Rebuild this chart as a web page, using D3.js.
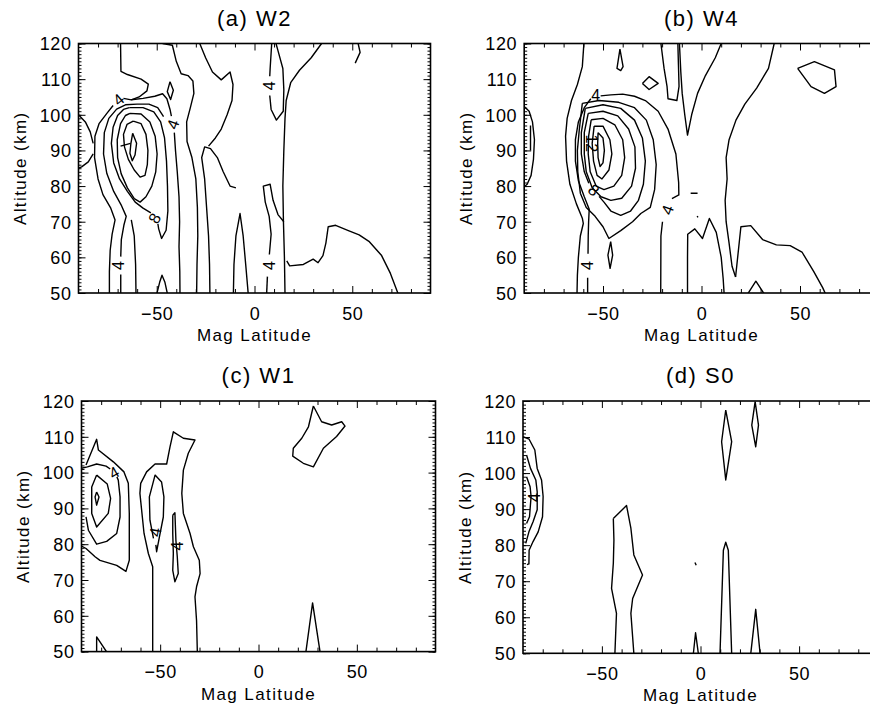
<!DOCTYPE html>
<html>
<head>
<meta charset="utf-8">
<script src="https://cdn.jsdelivr.net/npm/d3@7"></script>
<style>
  body { margin: 0; background: #fff; }
  text { font-family: "Liberation Sans", Arial, sans-serif; fill: #000; }
  .axis text { font-size: 18px; letter-spacing: 0.6px; }
  .axis path { display: none; }
  .axis line { stroke: #000; stroke-width: 1; }
  .contour { fill: none; stroke: #000; stroke-width: 1.4; stroke-linejoin: round; }
</style>
</head>
<body>
<svg id="chart" width="870" height="708"></svg>
<script>
// tick values
var latTicks = [-50, 0, 50];
var latMinor = [-80, -70, -60, -40, -30, -20, -10, 10, 20, 30, 40, 60, 70, 80];
var altTicks = [50, 60, 70, 80, 90, 100, 110, 120];

var titles = ["(a) W2", "(b) W4", "(c) W1", "(d) S0"];

// contour lines, [mag latitude, altitude km]
var w2Lines = [
  [[-90,100],[-86.5,98],[-84,95.2],[-82.5,92]],
  [[-82.5,89],[-85,86.8],[-88.4,85.4],[-90,85]],
  [[-74.2,49.7],[-74.2,56],[-73.8,62],[-72.8,66.5],[-71.3,70.5],[-73.5,73.8],[-77.5,77.6],[-80,82],[-81.8,88],[-81.6,94],[-79.5,97.5],[-75.5,100.4],[-72.3,102.6]],
  [[-67,104.6],[-63,104.2],[-57,104.6],[-51,105.2],[-47,105.9],[-44.8,104.5],[-43.2,101.5],[-42.5,99.6]],
  [[-41,95],[-40.4,90],[-39.5,84],[-38.6,77],[-38.3,70],[-38.6,63],[-38.2,56],[-38.1,49.7]],
  [[-68.5,120],[-68.3,112.2],[-65,111.3],[-58,110],[-54.3,108.6],[-55,106.7],[-59,105],[-63,104.2]],
  [[-43.2,109.3],[-41.5,106.9],[-42.9,104.3],[-44.6,106.5],[-43.2,109.3]],
  [[-68.4,49.7],[-68.4,55.2]],
  [[-68.4,60.2],[-68.1,65],[-66.8,69],[-65.6,71.5],[-68,74.5],[-72,78.5],[-75.5,83.5],[-77.2,89],[-76.8,95],[-74.5,99],[-70.5,101.6],[-66,102.8],[-60,103],[-54,103],[-49.5,102],[-46.5,99.5]],
  [[-62.3,94.8],[-60.3,92],[-61.1,88.7],[-62.5,87.1],[-63.7,89.2],[-63.2,92],[-62.3,94.8]],
  [[-68.5,91.2],[-63.4,92]],
  [[-62,98.2],[-58,97.5],[-55.5,94.5],[-54.5,90],[-54.8,86],[-56,83],[-58.5,82.5],[-61.5,84.5],[-64.5,87.5],[-66.5,91],[-67,94.5],[-65.2,97.3],[-62,98.2]],
  [[-63.7,100.4],[-58,100.2],[-53.5,98],[-50.8,94],[-49.8,89],[-50.5,84],[-52.5,80],[-55.5,77],[-58.5,75.5],[-61.5,76.5],[-65,79.5],[-68.2,83.5],[-70,88],[-70.2,93],[-68.5,97.5],[-66,99.8],[-63.7,100.4]],
  [[-64,102],[-57,102],[-51.5,100.8],[-48,98],[-46,93.5],[-45,87],[-44.5,80],[-44.3,73],[-45.2,67.6],[-47.5,65.3],[-49,68],[-49.4,69.4]],
  [[-53,72.5],[-57,73.8],[-61,75.5],[-65,78.5],[-69,82],[-72,86.5],[-73.2,92],[-72.3,96.5],[-70,99.8],[-67,101.5],[-64,102]],
  [[-60.6,49.7],[-60.8,58],[-61.5,66],[-63,70.5]],
  [[-50,49.7],[-48.5,53],[-47.3,55],[-45.8,53],[-44.5,49.7]],
  [[-29.6,49.7],[-29.4,58],[-29,66],[-29.2,74],[-30,82],[-32,88],[-34.5,92.5],[-34.7,98],[-32.8,102],[-31,106],[-31.5,109.5],[-34,111],[-37.5,111.5],[-40,115],[-42,119.5],[-47,120]],
  [[-22.8,49.7],[-23,58],[-23.5,66],[-24.5,74],[-25.5,82],[-27,88],[-25.5,91],[-22.5,90.5],[-19,88],[-16,84],[-12.5,80],[-9.5,79.5]],
  [[-28,120],[-25,116],[-21.5,112],[-17,109.8],[-12.5,112],[-11,108.5],[-11.5,104],[-14,100],[-17,96],[-20,93.5],[-23.5,91.2]],
  [[-10.8,49.7],[-10.5,58],[-9.5,66],[-7.4,72.3],[-5.8,66],[-4.5,58],[-3.2,49.7]],
  [[8.8,120],[8,113],[7.8,110.8]],
  [[7.8,105.4],[8.5,101.5],[11.2,98.5],[14.7,101],[15,107],[14.5,113],[12,118],[11,120]],
  [[6.2,49.7],[6.6,54.6]],
  [[7.6,60.8],[8.5,66.5],[7.5,71.5],[5.5,75.5],[4.5,80],[8,80.5],[9.5,76],[12,72],[15,70]],
  [[15.6,49.7],[15.3,60],[14.8,70],[14.5,80],[15,90],[15.6,99],[16.2,104],[18.5,109],[23,112.5],[29,116],[34.3,120]],
  [[53,120],[54,117.5],[51.5,114.5]],
  [[73.5,49.7],[69.5,55.5],[65,60.5],[58.5,64.5],[53.5,66.3],[48,67.5],[41.5,69],[37.7,68.6],[36.5,64],[35,60.5],[32.5,58.5],[30,59.5],[25,58],[18,57.6],[16.5,59]]
];
var w2Labels = [
  [-69.6, 104.3, "4", -40], [-41.7, 97.3, "4", -70], [-69.6, 57.7, "4", -90],
  [-51.2, 71, "8", -60], [7.6, 108.1, "4", -90], [7.3, 57.7, "4", -90]
];

var w4Lines = [
  [[-90,102.3],[-87.5,101],[-85.8,98],[-84.8,93],[-85.3,87.5],[-86.5,83],[-88.5,80.5],[-90,79.8]],
  [[-86.8,97],[-86.8,90]],
  [[-59.7,120],[-60.5,113.5],[-63,108.5],[-66,104],[-68.2,99],[-69,94],[-68.5,87],[-66.8,80.5],[-63.5,75],[-60.5,71],[-60,69.5],[-61.5,66],[-62.5,60],[-63,55],[-63.2,49.7]],
  [[-56.2,104.5],[-59.5,102],[-62.5,98],[-64,93],[-64,87],[-62.5,81.5],[-59.5,77],[-57,73.5],[-57.3,70],[-57.5,66],[-57.6,61]],
  [[-57.8,54.3],[-57.8,49.7]],
  [[-51.2,105.3],[-46,105.6],[-40,105.8],[-34,105.2],[-28.5,104],[-22,101],[-17,96],[-13,89],[-11.6,81],[-11.5,77.5],[-15,76.5]],
  [[-19.8,70],[-20.6,66],[-20.7,49.7]],
  [[-52.5,95],[-50,93.5],[-49.3,90],[-50,86.5],[-51.5,85.5],[-52.5,88],[-52.7,92],[-52.5,95]],
  [[-54.5,96.8],[-50,96.8],[-46.5,93],[-45.5,89],[-47,84.5],[-50.5,82],[-53,83],[-54.8,87],[-55.5,92],[-54.5,96.8]],
  [[-56,98.6],[-50,99],[-44,97.2],[-40,93],[-39,88],[-40.5,83],[-44.5,80],[-49.5,79],[-53.5,80],[-56.5,84],[-57.5,89],[-57.3,94],[-56,98.6]],
  [[-57.5,100.4],[-50,101],[-42.5,99.7],[-37,96],[-33.8,91],[-33.5,85],[-35.5,80],[-40.5,76.6],[-46,76],[-51,77],[-55.5,79.5],[-58.5,84],[-59.5,89],[-59.5,95],[-57.5,100.4]],
  [[-59,101.8],[-50,102.8],[-41,101.8],[-34,98.5],[-30,93.5],[-28.5,87],[-29.5,80.5],[-32,76],[-36,73],[-41,71.8],[-46,73],[-49.5,75.5],[-52,77.1]],
  [[-57.2,80.8],[-59.5,84],[-61,89],[-61,95],[-59,101.8]],
  [[-60.5,103.2],[-52,104],[-42,103.5],[-34,102],[-28,98.5],[-24.5,93],[-23,86],[-23.8,79],[-26,74],[-30.8,72.3],[-35,70],[-41,67.5],[-47,65.3],[-50,68.6],[-54,71.5],[-58.5,74],[-61.5,78],[-62.8,84],[-63,90],[-62,96],[-60.5,103.2]],
  [[-46.1,64.4],[-45.1,60.6],[-46.4,56.9],[-47.5,60.6],[-46.1,64.4]],
  [[-41.4,118.4],[-39.8,113.5],[-41,112.4],[-42.9,113],[-41.4,118.4]],
  [[-30,108.8],[-26.6,110.7],[-22,108.8],[-26.6,107.1],[-30,108.8]],
  [[-20.6,120],[-19,113],[-17.5,108],[-17,104.5],[-12.5,104],[-11.4,108],[-11.7,114],[-12,120]],
  [[-11.2,120],[-10.5,112],[-9.8,106],[-8.5,100],[-7.1,94.3],[-5,100],[-2,106],[2,111],[7,116],[10,120]],
  [[36.9,120],[34,113],[28,107.5],[22,103],[17.5,98.5],[14,93],[12.5,88],[13,82],[12,76],[12.5,70],[14,64],[15.5,57.5],[17.3,54.5]],
  [[-7.1,49.7],[-7.1,60],[-7,66.5],[-3.4,68],[0.5,65.3],[4,70.9],[7.5,67],[10,60],[11,54],[11.5,49.7]],
  [[17.3,54.5],[20,68.6],[25,68.9],[31,65],[38,63.5],[45,63.3],[51,61.5],[57,56],[61.5,51.5],[63,49.7]],
  [[48.8,113],[57.3,114.9],[67.5,112.6],[68.3,107.9],[62.4,106],[55.6,107.9],[48.8,113]],
  [[23.4,49.7],[27.6,53.3],[31.9,49.7]],
  [[-5.5,78],[-2,78]],
  [[-2.2,71.6],[-1.8,71.2]]
];
var w4Labels = [
  [-53.7, 105.6, "4", 0], [-58, 57.7, "4", -90], [-17.3, 73.3, "4", -70],
  [-54.6, 78.9, "8", 40], [-55.5, 92, "12", 90]
];

var w1Lines = [
  [[-87.7,102.1],[-82.3,109.3],[-81.4,106.3],[-73.8,103],[-68.4,100.2],[-66.2,97],[-65.7,88.6],[-65.7,75.5],[-67.4,72.4],[-72.1,74.1],[-80.6,75.5],[-83.1,76.5],[-87.7,78.8],[-90,79.5]],
  [[-90,101.2],[-87,101.6],[-82.3,102.4],[-77.5,101.8],[-75.4,101]],
  [[-72,98.8],[-71.3,97.9],[-70.4,93.2],[-70.4,87.6],[-72.1,83],[-77.2,80.8],[-82.3,80],[-86.5,83.9],[-87.7,87.6]],
  [[-82.3,99.3],[-76.9,96.8],[-75.2,92.8],[-76.4,88.6],[-82.3,84.8],[-84.8,88.6],[-84.8,96],[-82.3,99.3]],
  [[-82.3,94.6],[-81.1,93.2],[-82.3,90.9],[-83.1,93.2],[-82.3,94.6]],
  [[-53.8,49.9],[-53.8,73.7],[-56,77.4],[-58.2,83],[-60.3,94.2],[-59.9,97],[-56.9,100.2],[-52.6,102.4],[-46.7,102.4],[-45,107.2],[-43.3,111.4],[-38.2,109.6],[-32.3,109.1],[-35.7,105.4],[-38.2,100.7],[-39,94.2],[-38.2,88.6],[-34.8,83],[-33.1,79.3],[-30.1,75.5],[-29.7,71.8],[-31.5,68.1],[-32.3,65.3],[-31.5,58.7],[-31.1,49.9]],
  [[-53.4,81.6],[-55.2,86.7],[-55.5,93.2],[-52.6,99.3],[-49.3,97.4],[-48.1,93.2],[-48.4,87.6],[-50.4,82],[-51.8,77.9],[-52.2,79.8]],
  [[-43.6,88.1],[-42.5,88.8],[-42,81.1],[-41.3,76.5],[-40.8,71.8],[-42.5,69.5],[-43.6,72.7],[-43.3,77.4],[-43.6,83],[-43.6,88.1]],
  [[-82.3,49.9],[-82.3,54.1],[-77.2,49.9]],
  [[27.9,118.6],[32.1,114.2],[37.2,113.3],[42.3,114.2],[44,113],[39.7,110.1],[33,106.8],[27.9,101.6],[22.8,102.6],[17.4,104.6],[17.7,106.8],[22,109.6],[25.4,112.8],[27.9,118.6]],
  [[24.1,49.9],[27.5,63.6],[31.3,49.9]]
];
var w1Labels = [
  [-73.5, 100, "4", -30], [-52.6, 83.4, "4", -80], [-41.5, 79.5, "4", -90]
];

var s0Lines = [
  [[-90,110.1],[-86.9,109.4],[-84,106.4],[-82.8,101.3],[-80.6,98.1],[-79.8,93.5],[-80.1,87.9],[-82.3,83.7],[-84.9,81],[-86.9,78.6],[-87,74.8],[-88,74.6]],
  [[-88.2,105],[-86.2,101.3],[-83.5,98.1],[-82.8,94.8],[-82.8,89.8],[-84.9,86.5],[-87,83.7],[-88.6,80.5]],
  [[-88.2,99],[-86.4,96.2],[-85.9,93.5],[-86.7,87.9],[-88.2,86]],
  [[-44.2,87.4],[-37.5,91],[-35.3,84.7],[-33.8,77.3],[-29.4,71.7],[-34.4,65.2],[-35.3,61.1],[-33.8,50]],
  [[-43.4,50],[-42.6,61.1],[-45.1,68],[-44.2,75],[-43.9,81.4],[-44.2,87.4]],
  [[-2.8,75.2],[-2.2,74.4]],
  [[-3.6,50],[-2.5,55.7],[-1.1,50]],
  [[12.8,117.5],[15.8,108.7],[12.8,98.1],[10.7,108.7],[12.8,117.5]],
  [[9.9,50],[11.6,78.6],[12.8,80.8],[14.1,78.6],[15.8,50]],
  [[27.7,119.8],[29.4,113.3],[28,107.3],[26,113.3],[27.7,119.8]],
  [[25.5,50],[28,62.2],[30.2,50]]
];
var s0Labels = [
  [-84.2, 93.2, "4", -90]
];

var panelLines = [w2Lines, w4Lines, w1Lines, s0Lines];
var panelLabels = [w2Labels, w4Labels, w1Labels, s0Labels];

// layout of the four plot boxes (pixels)
var boxes = [
  { left: 78.5, top: 43.5, width: 352, height: 249.5 },
  { left: 524.2, top: 43.5, width: 354.6, height: 249.5 },
  { left: 81.5, top: 401, width: 354, height: 250.6 },
  { left: 523, top: 401, width: 355, height: 252.3 }
];

var svg = d3.select("#chart");
svg.append("rect").attr("width", 870).attr("height", 708).attr("fill", "#fff");

boxes.forEach(function(b, i) {
  var g = svg.append("g").attr("transform", "translate(" + b.left + "," + b.top + ")");
  var x = d3.scaleLinear().domain([-90, 90]).range([0, b.width]);
  var y = d3.scaleLinear().domain([50, 120]).range([b.height, 0]);

  // clip
  g.append("clipPath").attr("id", "clip" + i)
    .append("rect").attr("width", b.width).attr("height", b.height);

  // axes, ticks pointing inwards
  g.append("g").attr("class", "axis")
    .attr("transform", "translate(0," + b.height + ")")
    .call(d3.axisBottom(x).tickValues(latTicks).tickSize(-7).tickPadding(14));
  g.append("g").attr("class", "axis")
    .attr("transform", "translate(0," + b.height + ")")
    .call(d3.axisBottom(x).tickValues(latMinor).tickSize(-4).tickFormat(""));
  g.append("g").attr("class", "axis")
    .call(d3.axisTop(x).tickValues(latTicks).tickSize(-7).tickFormat(""));
  g.append("g").attr("class", "axis")
    .call(d3.axisTop(x).tickValues(latMinor).tickSize(-4).tickFormat(""));

  g.append("g").attr("class", "axis")
    .call(d3.axisLeft(y).tickValues(altTicks).tickSize(-7).tickPadding(7));
  g.append("g").attr("class", "axis")
    .call(d3.axisLeft(y).tickValues(d3.range(50, 121)).tickSize(-3).tickFormat(""));
  g.append("g").attr("class", "axis")
    .attr("transform", "translate(" + b.width + ",0)")
    .call(d3.axisRight(y).tickValues(altTicks).tickSize(-7).tickFormat(""));
  g.append("g").attr("class", "axis")
    .attr("transform", "translate(" + b.width + ",0)")
    .call(d3.axisRight(y).tickValues(d3.range(50, 121)).tickSize(-3).tickFormat(""));

  g.selectAll(".axis text").each(function() {
    var t = d3.select(this);
    if (t.attr("x") !== null && +t.attr("x") < 0) t.attr("dy", "0.35em");
    else t.attr("dy", "0.71em");
  });

  // frame
  g.append("rect")
    .attr("width", b.width).attr("height", b.height)
    .attr("fill", "none").attr("stroke", "#000").attr("stroke-width", 1.6);

  // contour lines
  var line = d3.line().x(function(d) { return x(d[0]); }).y(function(d) { return y(d[1]); });
  g.append("g").attr("clip-path", "url(#clip" + i + ")")
    .selectAll("path")
    .data(panelLines[i])
    .enter().append("path")
    .attr("class", "contour")
    .attr("d", line);

  // contour labels
  g.selectAll(".clabel")
    .data(panelLabels[i])
    .enter().append("text")
    .attr("class", "clabel")
    .attr("transform", function(d) { return "translate(" + x(d[0]) + "," + y(d[1]) + ") rotate(" + d[3] + ")"; })
    .attr("text-anchor", "middle")
    .attr("dy", "0.36em")
    .style("font-size", "16px")
    .text(function(d) { return d[2]; });

  // titles
  g.append("text")
    .attr("x", x(0)).attr("y", -18)
    .attr("text-anchor", "middle")
    .style("font-size", "22px").style("letter-spacing", "1.5px")
    .text(titles[i]);

  g.append("text")
    .attr("x", x(0)).attr("y", b.height + 48)
    .attr("text-anchor", "middle")
    .style("font-size", "17px").style("letter-spacing", "1.4px")
    .text("Mag Latitude");

  g.append("text")
    .attr("transform", "translate(-58," + (b.height / 2) + ") rotate(-90)")
    .attr("text-anchor", "middle")
    .attr("dy", "0.35em")
    .style("font-size", "17px").style("letter-spacing", "1.4px")
    .text("Altitude (km)");
});
</script>
</body>
</html>
